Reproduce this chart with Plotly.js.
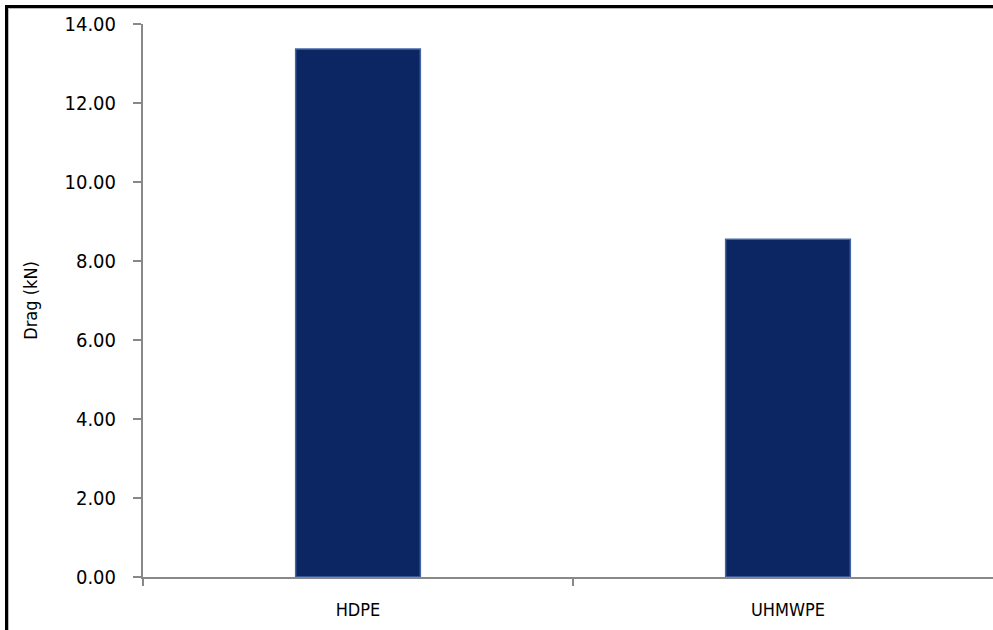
<!DOCTYPE html>
<html>
<head>
<meta charset="utf-8">
<script src="https://cdn.plot.ly/plotly-3.0.1.min.js"></script>
<style>
  html, body { margin:0; padding:0; overflow:hidden; background:#fff; width:993px; height:630px; }
  #chart { position:absolute; left:0; top:0; }
  #frame { position:absolute; left:5px; top:5px; width:1100px; height:700px; border:3px solid #000; pointer-events:none; box-shadow: 1px 1px 0 #bbb inset; }
</style>
</head>
<body>
<div id="chart"></div>
<div id="frame"></div>
<script>
const categories = ['HDPE', 'UHMWPE'];
const drag = [13.37, 8.55];
const yTicks = [0, 2, 4, 6, 8, 10, 12, 14];

const fontFam = '"DejaVu Sans Condensed", "Liberation Sans Narrow", sans-serif';

const trace = {
  type: 'bar',
  x: categories,
  y: drag,
  width: 0.29,
  marker: {
    color: '#0b2662',
    line: { color: '#4466a8', width: 1.5 }
  },
  hoverinfo: 'none'
};

const layout = {
  width: 1010,
  height: 640,
  margin: { l: 143, r: 7, t: 24, b: 62.5 },
  paper_bgcolor: '#ffffff',
  plot_bgcolor: '#ffffff',
  showlegend: false,
  font: { family: fontFam, color: '#000', size: 19 },
  xaxis: {
    type: 'category',
    range: [-0.5, 1.5],
    tickson: 'boundaries',
    ticks: 'outside',
    ticklen: 7,
    tickcolor: '#888',
    tickwidth: 1.5,
    showline: true,
    linecolor: '#888',
    linewidth: 2,
    showgrid: false,
    zeroline: false,
    tickfont: { family: fontFam, size: 18, color: '#000' },
    ticklabelstandoff: 15
  },
  yaxis: {
    range: [0, 14],
    tickvals: yTicks,
    tickformat: '.2f',
    ticks: 'outside',
    ticklen: 8,
    tickcolor: '#888',
    tickwidth: 1.5,
    showline: true,
    linecolor: '#888',
    linewidth: 2,
    showgrid: false,
    zeroline: false,
    tickfont: { family: fontFam, size: 20, color: '#000' },
    ticklabelstandoff: 13,
    title: { text: 'Drag (kN)', font: { family: fontFam, size: 18, color: '#000' }, standoff: 22 }
  }
};

Plotly.newPlot('chart', [trace], layout, { displayModeBar: false, staticPlot: true });
</script>
</body>
</html>
